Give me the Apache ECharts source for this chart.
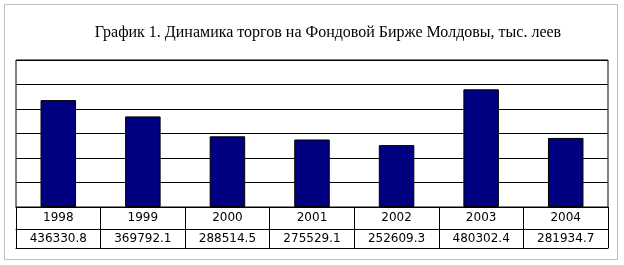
<!DOCTYPE html>
<html><head><meta charset="utf-8">
<script src="https://cdn.jsdelivr.net/npm/echarts@6/dist/echarts.min.js"></script>
<style>html,body{margin:0;padding:0;background:#fff}#c{width:624px;height:265px}</style>
</head><body><div id="c"></div>
<script>
const title = "График 1. Динамика торгов на Фондовой Бирже Молдовы, тыс. леев";
const categories = ["1998","1999","2000","2001","2002","2003","2004"];
const values = [436330.8, 369792.1, 288514.5, 275529.1, 252609.3, 480302.4, 281934.7];
const valueLabels = ["436330.8","369792.1","288514.5","275529.1","252609.3","480302.4","281934.7"];

const chart = echarts.init(document.getElementById('c'), null, {renderer:'canvas'});
const lblFont = {fontFamily:'DejaVu Sans, sans-serif', fontSize:12, color:'#000'};
chart.setOption({
  animation:false,
  backgroundColor:'#fff',
  title:{text:title, left:323, top:20, textAlign:'center',
    textStyle:{fontFamily:'Liberation Serif, Times New Roman, serif', fontSize:16, fontWeight:'normal', color:'#000'}},
  graphic:[{type:'rect', shape:{x:4.5,y:4.5,width:613,height:255}, style:{fill:null, stroke:'#c0c0c0', lineWidth:1}, silent:true, z:-1}],
  grid:{left:16, right:16, top:60, bottom:58, show:true, borderColor:'#000', borderWidth:1, backgroundColor:'#fff'},
  xAxis:[
    {type:'category', data:categories, position:'bottom',
     axisLine:{show:true, lineStyle:{color:'#000'}},
     axisTick:{show:true, length:41, lineStyle:{color:'#000'}},
     axisLabel:Object.assign({margin:11, verticalAlign:'middle'}, lblFont)},
    {type:'category', data:valueLabels, position:'bottom', offset:22,
     axisLine:{show:true, lineStyle:{color:'#000'}},
     axisTick:{show:false},
     axisLabel:Object.assign({margin:10, verticalAlign:'middle'}, lblFont)},
    {type:'category', data:categories, position:'bottom', offset:41,
     axisLine:{show:true, lineStyle:{color:'#000'}},
     axisTick:{show:false}, axisLabel:{show:false}}
  ],
  yAxis:{type:'value', min:0, max:600000, interval:100000,
    axisLabel:{show:false}, axisLine:{show:false}, axisTick:{show:false},
    splitLine:{show:true, lineStyle:{color:'#000', width:1}}},
  series:[{type:'bar', data:values, barWidth:'42%', xAxisIndex:0,
    itemStyle:{color:'#000080', borderColor:'#000', borderWidth:1}}]
});
</script></body></html>
